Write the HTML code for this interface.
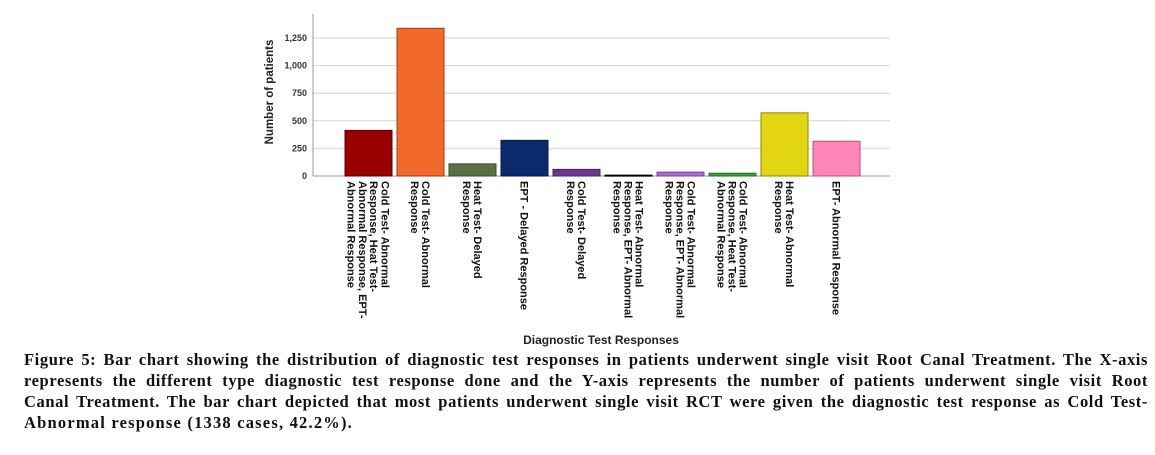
<!DOCTYPE html>
<html><head><meta charset="utf-8">
<style>
body{margin:0;width:1155px;height:455px;background:#fff;overflow:hidden;position:relative;font-family:"Liberation Sans",sans-serif}
.cap{position:absolute;left:24px;width:1124px;font-family:"Liberation Serif",serif;font-weight:bold;font-size:16.5px;letter-spacing:1.2px;color:#111;white-space:nowrap}
.j{text-align:justify;text-align-last:justify;letter-spacing:0.6px}
</style></head><body>
<svg id="chart" width="1155" height="350" style="position:absolute;left:0;top:0"></svg>
<div class="cap j" style="top:350px">Figure 5: Bar chart showing the distribution of diagnostic test responses in patients underwent single visit Root Canal Treatment. The X-axis</div>
<div class="cap j" style="top:371px">represents the different type diagnostic test response done and the Y-axis represents the number of patients underwent single visit Root</div>
<div class="cap j" style="top:392px">Canal Treatment. The bar chart depicted that most patients underwent single visit RCT were given the diagnostic test response as Cold Test-</div>
<div class="cap" style="top:413px">Abnormal response (1338 cases, 42.2%).</div>
<script>
const categories=[["Cold Test- Abnormal","Response, Heat Test-","Abnormal Response, EPT-","Abnormal Response"],["Cold Test- Abnormal","Response"],["Heat Test- Delayed","Response"],["EPT - Delayed Response"],["Cold Test- Delayed","Response"],["Heat Test- Abnormal","Response, EPT- Abnormal","Response"],["Cold Test- Abnormal","Response, EPT- Abnormal","Response"],["Cold Test- Abnormal","Response, Heat Test-","Abnormal Response"],["Heat Test- Abnormal","Response"],["EPT- Abnormal Response"]];
const values=[413,1338,110,323,60,8,35,25,572,315];
const colors=["#990000","#f26a2b","#5a7147","#0c2a6e","#6b3a8c","#111111","#b06ad0","#3fa63a","#e2d513","#ff85b8"];
const strokes=["#5a0000","#9a3d12","#3a4a2d","#061a45","#45235c","#000","#7a3f95","#226e1f","#8f8700","#b3507d"];
const yTicks=[0,250,500,750,1000,1250];
const NS="http://www.w3.org/2000/svg";
const svg=document.getElementById('chart');
const x0=313,x1=890,yBase=176,pxPer=(176-38)/1250;
const bandStart=345,band=52,barW=47;
const y=v=>yBase-v*pxPer;
const xb=i=>bandStart+i*band;
function mk(t,a){const e=document.createElementNS(NS,t);for(const k in a)e.setAttribute(k,a[k]);svg.appendChild(e);return e;}
yTicks.forEach(t=>{
 if(t>0){const g=mk('line',{x1:x0,x2:x1,y1:y(t),y2:y(t),stroke:'#d4d4d4','stroke-width':1});
 
 }
 const tl=mk('text',{x:307,y:y(t)+3,'text-anchor':'end','font-size':'9','font-weight':'bold',fill:'#333'});
 tl.textContent=t.toLocaleString('en-US');
 
 
});
const ax=mk('line',{x1:x0,x2:x0,y1:14,y2:yBase,stroke:'#999'});


const bx=mk('line',{x1:x0,x2:x1,y1:yBase,y2:yBase,stroke:'#999'});


values.forEach((v,i)=>{
 const r=mk('rect',{x:xb(i),y:y(v),width:barW,height:Math.max(yBase-y(v),1),fill:colors[i],stroke:strokes[i],'stroke-width':1});
 
 
 const lines=categories[i];
 const cx=xb(i)+barW/2;
 const n=lines.length;
 lines.forEach((ln,k)=>{
  const lx=cx+((n-1)/2-k)*11.2;
  const t=mk('text',{x:0,y:0,transform:`translate(${lx-4},181) rotate(90)`,'font-size':'11','font-weight':'bold',fill:'#111'});
  t.textContent=ln;
  
  
 });
});
const yt=mk('text',{x:0,y:0,transform:'translate(273,92) rotate(-90)','text-anchor':'middle','font-size':'11.5','font-weight':'bold',fill:'#222'});
yt.textContent='Number of patients';


const xt=mk('text',{x:601,y:344,'text-anchor':'middle','font-size':'12','font-weight':'bold',fill:'#222'});
xt.textContent='Diagnostic Test Responses';


</script>
</body></html>
